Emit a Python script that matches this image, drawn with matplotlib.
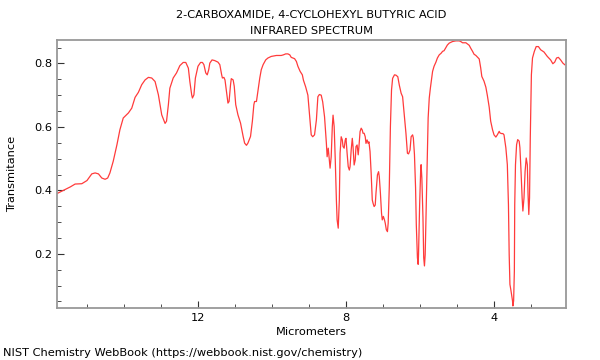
"""IR spectrum of 2-carboxamide, 4-cyclohexyl butyric acid (NIST style)."""

import matplotlib

matplotlib.use("Agg")
import matplotlib.pyplot as plt  # noqa: E402
from matplotlib.ticker import MultipleLocator  # noqa: E402

TITLE = "2-CARBOXAMIDE, 4-CYCLOHEXYL BUTYRIC ACID\nINFRARED SPECTRUM"
FOOTER = "NIST Chemistry WebBook (https://webbook.nist.gov/chemistry)"

# wavelength in micrometers (descending)
wavelength_um = [
    15.82, 15.60, 15.46, 15.33, 15.15, 15.01, 14.88, 14.79, 14.70, 14.61,
    14.52, 14.45, 14.39, 14.30, 14.20, 14.12, 14.03, 13.89, 13.80, 13.71,
    13.62, 13.53, 13.44, 13.35, 13.26, 13.17, 13.08, 12.99, 12.90, 12.86,
    12.81, 12.77, 12.68, 12.59, 12.50, 12.41, 12.34, 12.27, 12.23, 12.18,
    12.16, 12.12, 12.08, 12.01, 11.94, 11.89, 11.85, 11.80, 11.76, 11.72,
    11.69, 11.63, 11.56, 11.47, 11.42, 11.37, 11.35, 11.31, 11.28, 11.24,
    11.20, 11.17, 11.13, 11.11, 11.06, 11.03, 10.99, 10.93, 10.86, 10.79,
    10.75, 10.70, 10.66, 10.59, 10.54, 10.50, 10.48, 10.43, 10.39, 10.34,
    10.30, 10.25, 10.18, 10.12, 10.03, 9.89, 9.76, 9.70, 9.64, 9.58,
    9.53, 9.49, 9.40, 9.35, 9.31, 9.25, 9.19, 9.16, 9.10, 9.04,
    9.00, 8.95, 8.91, 8.86, 8.81, 8.77, 8.73, 8.68, 8.64, 8.59,
    8.54, 8.52, 8.49, 8.46, 8.44, 8.41, 8.38, 8.36, 8.33, 8.30,
    8.27, 8.25, 8.22, 8.19, 8.17, 8.14, 8.11, 8.09, 8.06, 8.03,
    8.01, 7.98, 7.95, 7.92, 7.90, 7.87, 7.84, 7.82, 7.79, 7.76,
    7.74, 7.71, 7.68, 7.66, 7.63, 7.60, 7.57, 7.55, 7.52, 7.49,
    7.47, 7.44, 7.41, 7.39, 7.36, 7.33, 7.30, 7.28, 7.25, 7.22,
    7.20, 7.16, 7.13, 7.11, 7.08, 7.05, 7.03, 7.00, 6.97, 6.95,
    6.92, 6.89, 6.87, 6.84, 6.81, 6.78, 6.75, 6.70, 6.66, 6.61,
    6.57, 6.52, 6.48, 6.43, 6.39, 6.35, 6.32, 6.28, 6.25, 6.21,
    6.19, 6.16, 6.13, 6.11, 6.08, 6.06, 6.05, 6.02, 5.99, 5.98,
    5.96, 5.93, 5.91, 5.89, 5.87, 5.84, 5.81, 5.79, 5.76, 5.73,
    5.70, 5.67, 5.63, 5.58, 5.54, 5.49, 5.44, 5.40, 5.36, 5.31,
    5.27, 5.22, 5.13, 5.04, 4.95, 4.91, 4.86, 4.77, 4.68, 4.64,
    4.59, 4.55, 4.50, 4.46, 4.41, 4.37, 4.34, 4.28, 4.23, 4.19,
    4.14, 4.10, 4.05, 4.01, 3.96, 3.92, 3.87, 3.85, 3.81, 3.77,
    3.74, 3.69, 3.65, 3.62, 3.60, 3.58, 3.55, 3.51, 3.50, 3.48,
    3.46, 3.45, 3.43, 3.40, 3.37, 3.33, 3.31, 3.28, 3.25, 3.23,
    3.20, 3.17, 3.14, 3.11, 3.09, 3.07, 3.05, 3.03, 3.00, 2.97,
    2.92, 2.87, 2.81, 2.75, 2.66, 2.57, 2.48, 2.42, 2.37, 2.32,
    2.27, 2.21, 2.15, 2.10,
]

transmittance = [
    0.390, 0.403, 0.411, 0.420, 0.421, 0.431, 0.452, 0.455, 0.452, 0.439,
    0.435, 0.439, 0.455, 0.492, 0.544, 0.591, 0.628, 0.644, 0.659, 0.693,
    0.709, 0.733, 0.748, 0.756, 0.754, 0.743, 0.701, 0.638, 0.611, 0.618,
    0.670, 0.722, 0.754, 0.770, 0.793, 0.803, 0.803, 0.785, 0.743, 0.701,
    0.691, 0.701, 0.754, 0.791, 0.803, 0.803, 0.796, 0.770, 0.764, 0.780,
    0.801, 0.811, 0.809, 0.804, 0.796, 0.764, 0.754, 0.756, 0.748, 0.712,
    0.675, 0.680, 0.733, 0.752, 0.748, 0.728, 0.670, 0.638, 0.612, 0.570,
    0.549, 0.542, 0.549, 0.570, 0.618, 0.670, 0.680, 0.680, 0.712, 0.754,
    0.780, 0.796, 0.811, 0.817, 0.822, 0.825, 0.825, 0.827, 0.830, 0.830,
    0.827, 0.819, 0.815, 0.806, 0.791, 0.775, 0.764, 0.747, 0.726, 0.700,
    0.643, 0.575, 0.569, 0.575, 0.622, 0.695, 0.702, 0.700, 0.679, 0.632,
    0.548, 0.506, 0.533, 0.496, 0.470, 0.506, 0.601, 0.637, 0.601, 0.496,
    0.370, 0.307, 0.281, 0.370, 0.517, 0.569, 0.559, 0.538, 0.533, 0.559,
    0.564, 0.517, 0.475, 0.464, 0.475, 0.527, 0.564, 0.538, 0.480, 0.496,
    0.538, 0.543, 0.512, 0.538, 0.585, 0.596, 0.590, 0.580, 0.580, 0.569,
    0.548, 0.559, 0.548, 0.553, 0.522, 0.454, 0.370, 0.360, 0.349, 0.354,
    0.391, 0.449, 0.459, 0.443, 0.391, 0.328, 0.307, 0.318, 0.307, 0.297,
    0.276, 0.270, 0.297, 0.412, 0.601, 0.716, 0.753, 0.764, 0.763, 0.758,
    0.732, 0.706, 0.695, 0.632, 0.580, 0.517, 0.515, 0.527, 0.569, 0.575,
    0.565, 0.513, 0.408, 0.292, 0.188, 0.167, 0.198, 0.355, 0.471, 0.481,
    0.439, 0.314, 0.188, 0.162, 0.198, 0.355, 0.523, 0.628, 0.691, 0.722,
    0.748, 0.775, 0.791, 0.804, 0.817, 0.827, 0.832, 0.838, 0.840, 0.850,
    0.858, 0.864, 0.869, 0.871, 0.871, 0.869, 0.865, 0.865, 0.857, 0.848,
    0.838, 0.829, 0.825, 0.820, 0.814, 0.786, 0.759, 0.744, 0.725, 0.699,
    0.662, 0.618, 0.591, 0.575, 0.568, 0.575, 0.586, 0.581, 0.579, 0.579,
    0.575, 0.534, 0.481, 0.355, 0.198, 0.104, 0.083, 0.052, 0.036, 0.052,
    0.146, 0.355, 0.481, 0.544, 0.560, 0.555, 0.534, 0.460, 0.376, 0.335,
    0.376, 0.460, 0.502, 0.481, 0.387, 0.324, 0.376, 0.565, 0.764, 0.817,
    0.838, 0.853, 0.853, 0.843, 0.836, 0.822, 0.811, 0.799, 0.804, 0.817,
    0.819, 0.811, 0.801, 0.796,
]

x_major = [12, 8, 4]
y_major = [0.2, 0.4, 0.6, 0.8]

FS = 8.2

fig = plt.figure(figsize=(6, 3.6), dpi=100)
ax = fig.add_axes([0.095, 0.144, 0.848, 0.746])
ax.plot(wavelength_um, transmittance, color="#ff3b3b", lw=0.9)

ax.set_xlim(15.82, 2.07)
ax.set_ylim(0.029, 0.875)
ax.set_xticks(x_major)
ax.set_yticks(y_major)
ax.xaxis.set_minor_locator(MultipleLocator(1))
ax.yaxis.set_minor_locator(MultipleLocator(0.05))
ax.tick_params(which="both", direction="in", labelsize=FS, color="#333333")
ax.tick_params(which="major", length=5)
ax.tick_params(which="minor", length=3)
for sp in ax.spines.values():
    sp.set_color("#999999")
    sp.set_linewidth(1.3)

ax.set_xlabel("Micrometers", fontsize=FS, labelpad=3)
ax.set_ylabel("Transmitance", fontsize=FS, labelpad=12)
ax.set_title(TITLE, fontsize=FS, linespacing=1.75, pad=4)
fig.text(0.005, 0.006, FOOTER, fontsize=FS, ha="left", va="bottom")

fig.savefig("out.png", dpi=100)
plt.close(fig)
